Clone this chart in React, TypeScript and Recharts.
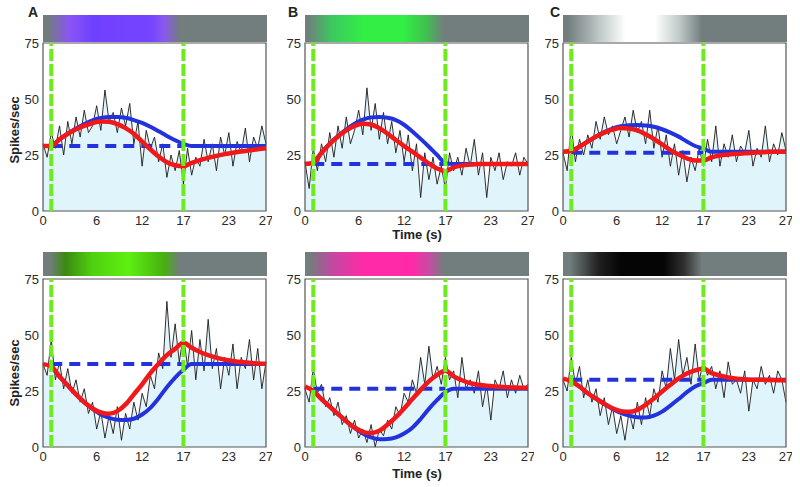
import React from "react";
import {
  ComposedChart,
  Area,
  Line,
  XAxis,
  YAxis,
  ReferenceLine,
  ReferenceArea,
} from "recharts";

// axis ticks (the printed labels sit a bit off the true values)
const TICK_POS = [0, 6.5, 12, 17, 22.5, 27];
const TICK_LABELS = ["0", "6", "12", "17", "23", "27"];
const Y_TICKS = [0, 25, 50, 75];
const STIM_T = [1, 17]; // stimulus on / off (green dashed)

// spike-rate traces, one value every 0.5 s from 0 to 27 s
const A_TRACE = [30, 24, 35, 28, 38, 25, 40, 30, 42, 33, 45, 35, 38, 47, 36, 54, 40, 44, 35, 46, 38, 48, 30, 40, 20, 36, 28, 33, 22, 30, 15, 25, 18, 27, 12, 28, 16, 24, 20, 32, 22, 30, 18, 33, 25, 35, 20, 31, 26, 37, 22, 33, 28, 38, 30];
const B_TRACE = [22, 10, 28, 18, 30, 22, 35, 24, 38, 28, 42, 30, 36, 45, 34, 55, 36, 48, 32, 44, 30, 40, 26, 36, 22, 34, 18, 30, 6, 26, 14, 24, 12, 20, 10, 26, 18, 24, 16, 28, 20, 32, 16, 26, 6, 24, 18, 26, 14, 22, 20, 26, 16, 24, 21];
const C_TRACE = [26, 18, 38, 22, 32, 25, 34, 28, 40, 32, 42, 34, 38, 30, 36, 42, 33, 45, 35, 40, 30, 45, 28, 38, 24, 34, 20, 30, 16, 27, 13, 24, 18, 28, 20, 32, 22, 38, 20, 30, 24, 34, 22, 29, 26, 36, 20, 28, 24, 38, 22, 30, 25, 35, 27];
const D_TRACE = [37, 32, 48, 30, 38, 26, 35, 24, 30, 20, 26, 15, 20, 8, 16, 4, 14, 6, 18, 3, 15, 8, 20, 12, 24, 18, 32, 26, 42, 35, 65, 40, 55, 38, 50, 36, 52, 30, 48, 34, 57, 35, 44, 26, 40, 32, 46, 26, 40, 35, 48, 30, 44, 26, 38];
const E_TRACE = [26, 20, 35, 24, 28, 18, 22, 14, 20, 10, 14, 6, 12, 4, 8, 2, 10, 0, 8, 5, 12, 8, 18, 14, 24, 20, 30, 24, 40, 28, 45, 30, 36, 28, 40, 30, 34, 22, 40, 26, 30, 24, 34, 18, 28, 12, 30, 26, 34, 22, 30, 24, 32, 26, 28];
const F_TRACE = [30, 25, 40, 28, 36, 22, 30, 20, 26, 14, 22, 10, 18, 6, 14, 3, 16, 8, 20, 10, 22, 14, 26, 20, 34, 26, 44, 30, 48, 32, 40, 28, 46, 30, 38, 32, 36, 26, 34, 22, 38, 28, 30, 24, 34, 16, 30, 26, 36, 28, 32, 24, 34, 30, 20];

// red model fit, one value per second from 0 to 27 s
const A_RED = [29, 29, 32, 34.5, 36.5, 38, 39.3, 40, 39.8, 38.8, 37, 34.5, 31, 27.5, 24.3, 21.8, 20.4, 20, 21.5, 22.7, 23.7, 24.6, 25.4, 26, 26.6, 27.1, 27.6, 28];
const B_RED = [21, 21.5, 26, 30, 33.3, 36, 38, 39, 38.6, 37, 34.5, 31.7, 29, 26.5, 23.8, 21.2, 19, 17.8, 19.5, 20.3, 20.7, 21, 21, 21, 21, 21, 21, 21];
const C_RED = [26.5, 26.8, 28.7, 31, 33.2, 35, 36.3, 37, 36.8, 36, 34.3, 32.2, 29.7, 27.2, 25.2, 23.5, 22.6, 22.6, 24, 24.8, 25.2, 25.5, 25.8, 26, 26.2, 26.4, 26.5, 26.6];
const D_RED = [37, 36, 31.5, 27.5, 23.5, 20, 17.2, 15.4, 14.8, 16, 19, 23.5, 28, 33, 37.2, 41, 43.8, 46.5, 44.3, 42.4, 41, 39.9, 39, 38.4, 37.9, 37.6, 37.3, 37.2];
const E_RED = [27, 25, 21.4, 18, 14.7, 11.5, 8.7, 6.8, 6.2, 7.2, 10, 13.3, 17.2, 21.4, 25.5, 29.3, 32.2, 34.2, 31.5, 29.8, 28.5, 27.8, 27.3, 27, 26.8, 26.6, 26.5, 26.4];
const F_RED = [30.5, 29.3, 27, 24, 21.6, 19.3, 17.3, 16, 15.7, 16.6, 18.8, 21.6, 24.8, 27.8, 30.6, 32.8, 34.2, 35, 33, 31.9, 31, 30.5, 30.2, 30, 30, 29.9, 29.8, 29.7];

// blue model fit, one value per second from 1 to 27 s
const A_BLUE = [29, 32, 34.5, 36.8, 38.8, 40.5, 41.5, 42, 42, 41.6, 40.6, 39.3, 37.6, 35.6, 33.5, 31.6, 30, 29, 29, 29, 29, 29, 29, 29, 29, 29, 29];
const B_BLUE = [21.5, 26, 30, 33.5, 36.5, 39, 40.8, 41.8, 42, 41.6, 40.6, 38.5, 35.5, 32.2, 28.7, 25, 21.5, 21, 21, 21, 21, 21, 21, 21, 21, 21, 21];
const C_BLUE = [26.8, 28.7, 31, 33.2, 35.2, 36.8, 37.8, 38.3, 38.4, 38.2, 37.6, 36.5, 35, 33.2, 31, 29, 27.8, 26.5, 26.5, 26.5, 26.5, 26.5, 26.5, 26.5, 26.5, 26.5, 26.5];
const D_BLUE = [36, 31.5, 27.5, 23.5, 20, 17, 14.5, 13, 12.2, 12.1, 12.6, 14.5, 17.5, 21.8, 26.7, 31, 34.5, 37, 37, 37, 37, 37, 37, 37, 37, 37, 37];
const E_BLUE = [25, 21.4, 18, 14.7, 11.5, 8.5, 6, 4.3, 3.5, 3.6, 4.3, 6, 8.6, 12.5, 17, 21, 24.5, 26, 26, 26, 26, 26, 26, 26, 26, 26, 26];
const F_BLUE = [29.3, 27, 24, 21.6, 19.2, 17, 15.2, 14, 13.3, 13.2, 14, 15.8, 18.5, 21.4, 24.5, 27, 28.5, 30, 30, 30, 30, 30, 30, 30, 30, 30, 30];

// pre-stimulus baseline (blue dashed), per panel A..F
const BASELINES = [29, 21, 26, 37, 26, 30];

const RED = "#f01818";
const BLUE = "#2233dd";
const GREEN = "#6cec1c";
const GRAY = "#727d7d";
const FONT = "'Liberation Sans', Arial, Helvetica, sans-serif";

// layout
const YW = 42;
const MT = 6;
const MR = 6;
const XH = 22;
const PW = 223;
const PH = 168;
const COL_LEFT = [43, 305, 563];
const ROW_TOP = [43, 279];
const BAR_TOP = [15, 252];
const BAR_H = [27, 24];

const BARS = [
  `linear-gradient(90deg, ${GRAY} 2%, #8a55f5 12%, #7040ff 22%, #7444ff 48%, #8a58f0 54%, ${GRAY} 61%, ${GRAY} 100%)`,
  `linear-gradient(90deg, ${GRAY} 1%, #3cc860 12%, #33ee44 26%, #33ee44 44%, #40c050 54%, ${GRAY} 62%, ${GRAY} 100%)`,
  `linear-gradient(90deg, ${GRAY} 2%, #c8d0d0 18%, #ffffff 28%, #ffffff 41%, #c0c8c8 52%, ${GRAY} 62%, ${GRAY} 100%)`,
  `linear-gradient(90deg, ${GRAY} 3%, #3a8a10 10%, #50d010 22%, #5ef010 38%, #48b010 54%, ${GRAY} 61%, ${GRAY} 100%)`,
  `linear-gradient(90deg, ${GRAY} 2%, #c04aa0 12%, #ff2aa8 26%, #ff2aa8 48%, #c050a0 56%, ${GRAY} 62%, ${GRAY} 100%)`,
  `linear-gradient(90deg, ${GRAY} 3%, #202020 16%, #050505 26%, #050505 45%, #303030 54%, ${GRAY} 62%, ${GRAY} 100%)`,
];

const PANELS = [
  { trace: A_TRACE, red: A_RED, blue: A_BLUE },
  { trace: B_TRACE, red: B_RED, blue: B_BLUE },
  { trace: C_TRACE, red: C_RED, blue: C_BLUE },
  { trace: D_TRACE, red: D_RED, blue: D_BLUE },
  { trace: E_TRACE, red: E_RED, blue: E_BLUE },
  { trace: F_TRACE, red: F_RED, blue: F_BLUE },
];

function buildRows(trace: number[], red: number[], blue: number[], base: number) {
  return trace.map((y, i) => {
    const t = i / 2;
    const k = i % 2 === 0 ? i / 2 : -1;
    return {
      t,
      y,
      red: k >= 0 ? red[k] : null,
      blue: k >= 1 ? blue[k - 1] : null,
      base: t === STIM_T[0] || t === STIM_T[1] ? base : null,
    };
  });
}

function Panel({ idx }: { idx: number }) {
  const p = PANELS[idx];
  const col = idx % 3;
  const row = Math.floor(idx / 3);
  const left = COL_LEFT[col];
  const top = ROW_TOP[row];
  const rows = buildRows(p.trace, p.red, p.blue, BASELINES[idx]);
  const tickStyle = { fontSize: 13, fill: "#2a2a2a", fontFamily: FONT };

  return (
    <>
      <div
        style={{
          position: "absolute",
          left,
          top: BAR_TOP[row],
          width: PW + 1,
          height: BAR_H[row],
          background: BARS[idx],
        }}
      />
      <div style={{ position: "absolute", left: left - YW, top: top - MT }}>
        <ComposedChart
          width={YW + PW + MR}
          height={MT + PH + XH}
          data={rows}
          margin={{ top: MT, right: MR, left: 0, bottom: 0 }}
        >
          <XAxis
            dataKey="t"
            type="number"
            domain={[0, 27]}
            ticks={TICK_POS}
            interval={0}
            tickFormatter={(v: number) => TICK_LABELS[TICK_POS.indexOf(v)]}
            tickLine={false}
            axisLine={false}
            tickSize={3}
            tickMargin={2}
            height={XH}
            tick={tickStyle}
          />
          <YAxis
            type="number"
            domain={[0, 75]}
            ticks={Y_TICKS}
            interval={0}
            tickLine={false}
            axisLine={false}
            tickSize={3}
            tickMargin={1}
            width={YW}
            tick={tickStyle}
          />
          <Area
            dataKey="y"
            type="linear"
            stroke="#1a1a1a"
            strokeWidth={0.9}
            fill="#e0f5fb"
            fillOpacity={1}
            dot={false}
            activeDot={false}
            isAnimationActive={false}
          />
          <Line
            dataKey="base"
            stroke={BLUE}
            strokeWidth={4}
            strokeDasharray="11 7"
            connectNulls
            dot={false}
            activeDot={false}
            isAnimationActive={false}
          />
          <Line
            dataKey="blue"
            type="monotone"
            stroke={BLUE}
            strokeWidth={4}
            connectNulls
            dot={false}
            activeDot={false}
            isAnimationActive={false}
          />
          <Line
            dataKey="red"
            type="monotone"
            stroke={RED}
            strokeWidth={4.5}
            connectNulls
            dot={false}
            activeDot={false}
            isAnimationActive={false}
          />
          {STIM_T.map((s) => (
            <ReferenceLine
              key={s}
              x={s}
              stroke={GREEN}
              strokeWidth={4}
              strokeDasharray="12 3"
            />
          ))}
          <ReferenceArea
            x1={0}
            x2={27}
            y1={0}
            y2={75}
            fill="none"
            fillOpacity={0}
            stroke="#555"
            strokeWidth={1.2}
          />
        </ComposedChart>
      </div>
    </>
  );
}

const titleStyle: React.CSSProperties = {
  position: "absolute",
  fontFamily: FONT,
  fontWeight: "bold",
  fontSize: 13,
  color: "#222",
  whiteSpace: "nowrap",
  lineHeight: "14px",
};

export default function App() {
  return (
    <div
      style={{
        position: "absolute",
        left: 0,
        top: 0,
        width: 800,
        height: 487,
        background: "#fff",
        overflow: "hidden",
        fontFamily: FONT,
      }}
    >
      {PANELS.map((_, i) => (
        <Panel key={i} idx={i} />
      ))}
      {["A", "B", "C"].map((l, i) => (
        <div key={l} style={{ ...titleStyle, left: [28, 288, 550][i], top: 5, fontSize: 14 }}>
          {l}
        </div>
      ))}
      {[130, 373].map((cy) => (
        <div
          key={cy}
          style={{
            ...titleStyle,
            left: 15,
            top: cy,
            transform: "translate(-50%, -50%) rotate(-90deg)",
          }}
        >
          Spikes/sec
        </div>
      ))}
      {[235, 474].map((cy) => (
        <div
          key={cy}
          style={{ ...titleStyle, left: 417, top: cy, transform: "translate(-50%, -50%)" }}
        >
          Time (s)
        </div>
      ))}
    </div>
  );
}
